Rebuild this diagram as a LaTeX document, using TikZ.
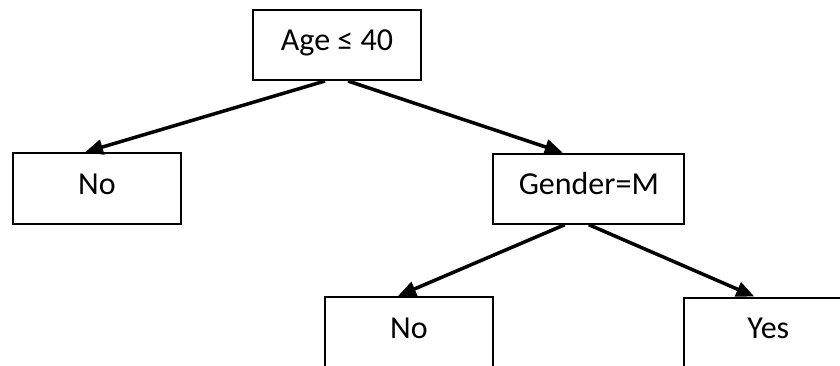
\documentclass[tikz,border=0pt]{standalone}
\usepackage{fontspec}
\setmainfont{Carlito}
\usetikzlibrary{arrows.meta,calc}
\begin{document}
\begin{tikzpicture}[x=1pt,y=-1pt,
  box/.style={draw=black,line width=2pt,fill=white,inner sep=0pt,
    font=\fontsize{32}{38}\selectfont,text height=20.2pt,text depth=9pt,
    minimum height=70pt},
  conn/.style={line width=3.5pt,-{Triangle[length=18pt,width=15pt]}}]
\useasboundingbox (0,0) rectangle (840,366);
\fill[white] (0,0) rectangle (840,366);
\node[box,minimum width=168pt] (age) at (337,45) {Age ≤ 40};
\node[box,minimum width=168pt,minimum height=71pt] (noL) at (97,188.7) {No};
\node[box,minimum width=191pt] (gender) at (588.8,188.7) {Gender=M};
\node[box,minimum width=168pt,minimum height=71pt] (noB) at (409,332.5) {No};
\node[box,minimum width=168pt,minimum height=71pt] (yes) at (768.3,333) {Yes};
\draw[conn] ($(age.south)+(-12,0)$) -- ($(noL.north)+(-12,0)$);
\draw[conn] ($(age.south)+(11,0)$) -- ($(gender.north)+(-26,0)$);
\draw[conn] ($(gender.south)+(-24,0)$) -- ($(noB.north)+(-11,0)$);
\draw[conn] ($(gender.south)+(0,0)$) -- ($(yes.north)+(-14,0)$);
\end{tikzpicture}
\end{document}
